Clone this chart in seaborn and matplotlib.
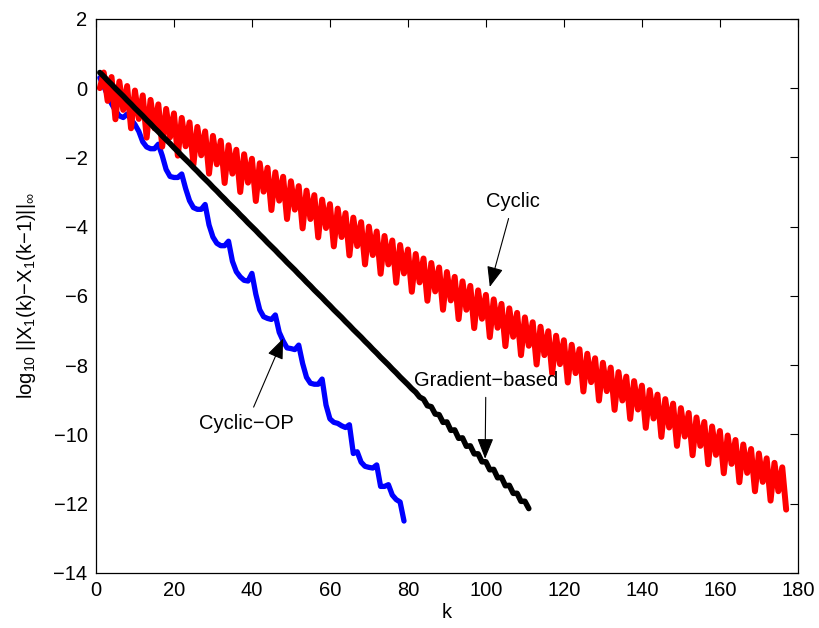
import matplotlib
matplotlib.use('Agg')
import matplotlib.pyplot as plt
import pandas as pd
import seaborn as sns

# log10 of the step size (k = 1, 2, ...)
cyclic = [
    0.00, 0.45, -0.37, 0.32, -0.90, 0.19, -0.63, 0.06,
    -1.16, -0.07, -0.89, -0.21, -1.43, -0.34, -1.16, -0.47,
    -1.69, -0.60, -1.42, -0.73, -1.95, -0.86, -1.68, -0.99,
    -2.21, -1.12, -1.94, -1.25, -2.47, -1.38, -2.20, -1.52,
    -2.74, -1.65, -2.47, -1.78, -3.00, -1.91, -2.73, -2.04,
    -3.26, -2.17, -2.99, -2.30, -3.52, -2.43, -3.25, -2.56,
    -3.78, -2.69, -3.51, -2.83, -4.05, -2.96, -3.78, -3.09,
    -4.31, -3.22, -4.04, -3.35, -4.57, -3.48, -4.30, -3.61,
    -4.83, -3.74, -4.56, -3.87, -5.09, -4.00, -4.82, -4.14,
    -5.36, -4.27, -5.09, -4.40, -5.62, -4.53, -5.35, -4.66,
    -5.88, -4.79, -5.61, -4.92, -6.14, -5.05, -5.87, -5.18,
    -6.40, -5.31, -6.13, -5.45, -6.67, -5.58, -6.40, -5.71,
    -6.93, -5.84, -6.66, -5.97, -7.19, -6.10, -6.92, -6.23,
    -7.45, -6.36, -7.18, -6.49, -7.71, -6.62, -7.44, -6.76,
    -7.98, -6.89, -7.71, -7.02, -8.24, -7.15, -7.97, -7.28,
    -8.50, -7.41, -8.23, -7.54, -8.76, -7.67, -8.49, -7.80,
    -9.02, -7.93, -8.75, -8.07, -9.29, -8.20, -9.02, -8.33,
    -9.55, -8.46, -9.28, -8.59, -9.81, -8.72, -9.54, -8.85,
    -10.07, -8.98, -9.80, -9.11, -10.33, -9.24, -10.06, -9.38,
    -10.60, -9.51, -10.33, -9.64, -10.86, -9.77, -10.59, -9.90,
    -11.12, -10.03, -10.85, -10.16, -11.38, -10.29, -11.11, -10.42,
    -11.64, -10.55, -11.37, -10.69, -11.91, -10.82, -11.64, -10.95,
    -12.17,
]

gradient = [
    0.45, 0.34, 0.22, 0.11, -0.01, -0.12, -0.23, -0.35, -0.46, -0.58,
    -0.69, -0.80, -0.92, -1.03, -1.15, -1.26, -1.38, -1.49, -1.60, -1.72,
    -1.83, -1.95, -2.06, -2.17, -2.29, -2.40, -2.52, -2.63, -2.74, -2.86,
    -2.97, -3.09, -3.20, -3.32, -3.43, -3.54, -3.66, -3.77, -3.89, -4.00,
    -4.11, -4.23, -4.34, -4.46, -4.57, -4.68, -4.80, -4.91, -5.03, -5.14,
    -5.25, -5.37, -5.48, -5.60, -5.71, -5.83, -5.94, -6.05, -6.17, -6.28,
    -6.40, -6.51, -6.62, -6.74, -6.85, -6.97, -7.08, -7.19, -7.31, -7.42,
    -7.54, -7.65, -7.77, -7.88, -7.99, -8.11, -8.22, -8.34, -8.45, -8.56,
    -8.68, -8.78, -8.92, -8.98, -9.17, -9.20, -9.41, -9.43, -9.65, -9.64,
    -9.88, -9.87, -10.11, -10.10, -10.34, -10.33, -10.56, -10.56, -10.79, -10.79,
    -11.02, -11.01, -11.25, -11.24, -11.48, -11.47, -11.70, -11.70, -11.93, -11.93,
    -12.14,
]

cyclic_op = [
    0.30, 0.05, -0.20, -0.45, -0.65, -0.80, -0.85, -0.75, -0.90, -1.05,
    -1.25, -1.55, -1.70, -1.75, -1.75, -1.62, -1.95, -2.35, -2.55, -2.58,
    -2.58, -2.48, -2.90, -3.25, -3.45, -3.50, -3.50, -3.36, -3.95, -4.30,
    -4.48, -4.55, -4.55, -4.42, -5.00, -5.30, -5.45, -5.55, -5.57, -5.35,
    -5.95, -6.40, -6.60, -6.65, -6.68, -6.55, -7.05, -7.30, -7.50, -7.52,
    -7.55, -7.42, -7.95, -8.35, -8.52, -8.55, -8.55, -8.40, -9.15, -9.55,
    -9.65, -9.68, -9.75, -9.80, -9.72, -10.55, -10.50, -10.80, -10.92, -10.95,
    -10.97, -10.88, -11.50, -11.50, -11.45, -11.75, -11.88, -11.95, -12.50,
]

x_ticks = list(range(0, 181, 20))
y_ticks = list(range(-14, 3, 2))

sns.set_style('white')
plt.rcParams['font.family'] = ['Liberation Sans', 'DejaVu Sans']
plt.rcParams['mathtext.fontset'] = 'custom'
plt.rcParams['mathtext.rm'] = 'Liberation Sans'
plt.rcParams['mathtext.it'] = 'Liberation Sans'
plt.rcParams['mathtext.default'] = 'regular'
for key in ['text.color', 'axes.labelcolor', 'xtick.color', 'ytick.color']:
    plt.rcParams[key] = 'black'

FS = 14.5


def to_frame(values):
    return pd.DataFrame({'k': range(1, len(values) + 1), 'value': values})


fig, ax = plt.subplots(figsize=(8.2, 6.28), dpi=100)
fig.subplots_adjust(left=0.117, right=0.973, top=0.970, bottom=0.0876)

# blue under red, black on top
sns.lineplot(data=to_frame(cyclic_op), x='k', y='value', color='#0000ff',
             lw=3.8, estimator=None, ax=ax)
sns.lineplot(data=to_frame(cyclic), x='k', y='value', color='#ff0000',
             lw=4.3, estimator=None, ax=ax)
sns.lineplot(data=to_frame(gradient), x='k', y='value', color='black',
             lw=4.0, estimator=None, ax=ax)

ax.set_xlim(0, 180)
ax.set_ylim(-14, 2)
ax.set_xticks(x_ticks)
ax.set_yticks(y_ticks)
ax.tick_params(direction='in', top=True, right=True, length=6, width=0.8,
               labelsize=FS, pad=6, colors='black')
for s in ax.spines.values():
    s.set_color('black')
    s.set_linewidth(0.9)

ax.set_xlabel('k', fontsize=FS, labelpad=2)
ax.set_ylabel(r'log$_{10}$ ||X$_1$(k)−X$_1$(k−1)||$_\infty$', fontsize=FS,
              labelpad=11)

arrow = dict(arrowstyle='-|>,head_length=0.7,head_width=0.28', color='black',
             lw=0.8, shrinkA=3, shrinkB=0, mutation_scale=18)
ax.annotate('Cyclic', xy=(101, -5.74), xytext=(107, -3.28), ha='center',
            va='center', fontsize=FS, arrowprops=arrow)
ax.annotate('Gradient−based', xy=(99.8, -10.7), xytext=(100, -8.44),
            ha='center', va='center', fontsize=FS, arrowprops=arrow)
ax.annotate('Cyclic−OP', xy=(48, -7.23), xytext=(38.6, -9.69), ha='center',
            va='center', fontsize=FS, arrowprops=arrow)

fig.savefig('out.png', dpi=100)
